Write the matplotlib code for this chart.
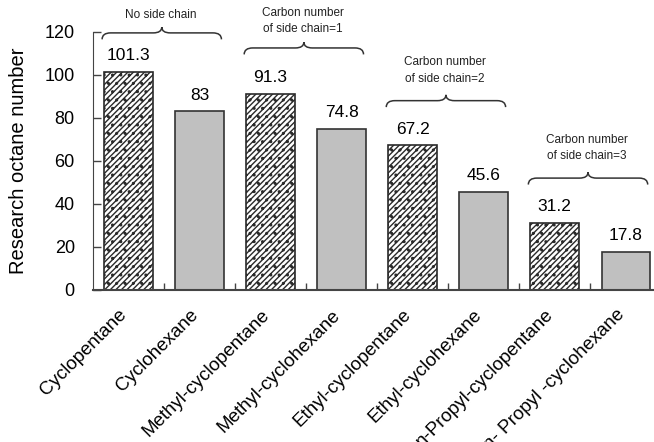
import numpy as np
import matplotlib
matplotlib.use("Agg")
import matplotlib.pyplot as plt
from matplotlib.path import Path
from matplotlib.patches import PathPatch
from matplotlib.transforms import ScaledTranslation

plt.rcParams['font.family'] = ['Liberation Sans', 'DejaVu Sans']
plt.rcParams['hatch.linewidth'] = 1.0

categories = ["Cyclopentane", "Cyclohexane", "Methyl-cyclopentane", "Methyl-cyclohexane",
              "Ethyl-cyclopentane", "Ethyl-cyclohexane", "n-Propyl-cyclopentane",
              "n- Propyl -cyclohexane"]
values = [101.3, 83, 91.3, 74.8, 67.2, 45.6, 31.2, 17.8]
value_labels = ["101.3", "83", "91.3", "74.8", "67.2", "45.6", "31.2", "17.8"]
group_texts = ["No side chain", "Carbon number\nof side chain=1",
               "Carbon number\nof side chain=2", "Carbon number\nof side chain=3"]
group_start = [0, 2, 4, 6]
brace_y = [119.5, 112.5, 88, 52]
text_y = [128, 125, 102, 66]

fig = plt.figure(figsize=(6.54, 4.42), dpi=100)
ax = fig.add_axes([0.142, 0.344, 0.869, 0.584])

x = np.arange(len(categories))
for i, (xi, v) in enumerate(zip(x, values)):
    if i % 2 == 0:
        ax.bar(xi, v, width=0.68, facecolor='white', edgecolor='#2a2a2a',
               hatch='//////..', linewidth=1.2, zorder=2)
    else:
        ax.bar(xi, v, width=0.68, facecolor='#c0c0c0', edgecolor='#333333',
               linewidth=1.2, zorder=2)
    ax.text(xi, v + 4, value_labels[i], ha='center', va='bottom', fontsize=12.5)

def brace(ax, x0, x1, y, h=3.0):
    xm = (x0 + x1) / 2
    d = 0.12
    verts = [(x0, y - h), (x0, y), (x0 + d, y),
             (xm - d, y), (xm, y), (xm, y + h * 0.9),
             (xm, y), (xm + d, y),
             (x1 - d, y), (x1, y), (x1, y - h)]
    codes = [Path.MOVETO, Path.CURVE3, Path.CURVE3,
             Path.LINETO, Path.CURVE3, Path.CURVE3,
             Path.CURVE3, Path.CURVE3,
             Path.LINETO, Path.CURVE3, Path.CURVE3]
    ax.add_patch(PathPatch(Path(verts, codes), fill=False, lw=1.1,
                           edgecolor='#333333', clip_on=False))

for s, by, ty, t in zip(group_start, brace_y, text_y, group_texts):
    brace(ax, s - 0.37, s + 1.31, by)
    ax.text(s + 0.45, ty, t, ha='center', va='center', fontsize=8.5,
            linespacing=1.5, color='#222222')

ax.set_xlim(-0.5, len(categories) - 0.5)
ax.set_ylim(0, 120)
ax.set_yticks(np.arange(0, 121, 20))
ax.tick_params(axis='y', labelsize=13, length=6, direction='in', width=1,
               pad=13, color='#444444')
ax.set_xticks(x)
ax.set_xticklabels(categories, rotation=45, ha='right', rotation_mode='anchor',
                   fontsize=13.5)
ax.tick_params(axis='x', length=0, pad=14)
offset = ScaledTranslation(-10 / 100, 3 / 100, fig.dpi_scale_trans)
for lab in ax.get_xticklabels():
    lab.set_transform(lab.get_transform() + offset)
ax.set_xticks(np.arange(0.5, len(categories) - 0.5, 1), minor=True)
ax.tick_params(axis='x', which='minor', length=5, direction='in', width=1,
               color='#444444')
ax.spines['top'].set_visible(False)
ax.spines['right'].set_visible(False)
ax.spines['left'].set_color('#444444')
ax.spines['bottom'].set_color('#444444')
ax.spines['bottom'].set_linewidth(1.5)
ax.set_ylabel("Research octane number", fontsize=14.5, labelpad=12)

fig.savefig("out.png", dpi=100)
